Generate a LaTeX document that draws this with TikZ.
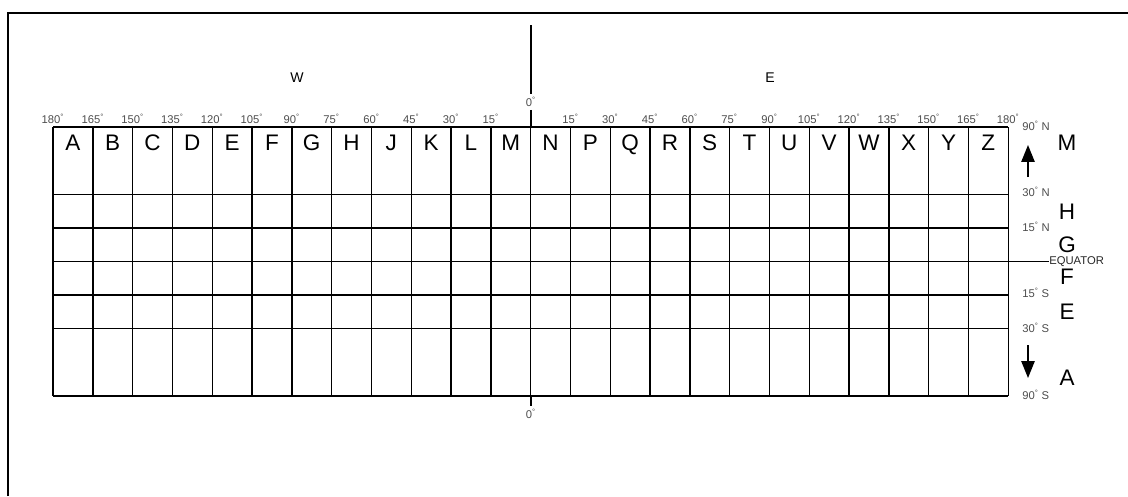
\documentclass[tikz,border=0pt]{standalone}
\usepackage{fontspec}
\setmainfont{Liberation Sans}
\usetikzlibrary{arrows.meta}
\newcommand{\dgr}{\textsuperscript{\fontsize{5.5}{5.5}\selectfont\textdegree}}

\begin{document}
\begin{tikzpicture}[x=0.025cm, y=-0.025cm,
    degree/.style={font=\fontsize{8}{8}\selectfont, text=black!70, inner sep=0pt},
    cell/.style={font=\fontsize{16}{16}\selectfont, inner sep=0pt, anchor=base},
    zone/.style={font=\fontsize{16}{16}\selectfont, inner sep=0pt},
    side/.style={font=\fontsize{10}{10}\selectfont, inner sep=0pt},
    gridline/.style={line width=1pt},
    arrow/.style={-{Triangle[length=0.42cm, width=0.33cm]}, line width=1.1pt}
]
    \useasboundingbox (0,0) rectangle (1128,496);
    \draw[line width=1.4pt] (8,496) -- (8,13) -- (1128,13);

    % grid
    \foreach \y in {127,194.2,227.8,261.4,295,328.6,395.8}
        \draw[gridline] (53,\y) -- (1008,\y);
    \foreach \i in {0,...,24}
        \draw[gridline] (53+39.8*\i,127) -- (53+39.8*\i,395.8);

    % zone letters
    \foreach \l [count=\i from 0] in {A,B,C,D,E,F,G,H,J,K,L,M,N,P,Q,R,S,T,U,V,W,X,Y,Z}
        \node[cell] (cell\l) at (72.9+39.8*\i,150) {\l};

    % longitudes
    \foreach \d [count=\i from 0] in {180,165,...,15}
        \node[degree, anchor=base] (lonW\d) at (53+39.8*\i,123) {\d\dgr};
    \foreach \d [count=\i from 13] in {15,30,...,180}
        \node[degree, anchor=base] (lonE\d) at (53+39.8*\i,123) {\d\dgr};

    \node[side] (west) at (297,78) {W};
    \node[side] (east) at (770,78) {E};

    % meridian
    \coordinate (mtop) at (531,25);
    \coordinate (gridTop) at (531,127);
    \coordinate (gridBot) at (531,395.8);
    \node[degree] (zeroTop) at (531,102) {0\dgr};
    \node[degree] (zeroBot) at (531,414) {0\dgr};
    \draw[gridline] (mtop) -- ([yshift=2pt]zeroTop.north);
    \draw[gridline] ([yshift=-2pt]zeroTop.south) -- (gridTop);
    \draw[gridline] (gridBot) -- ([yshift=2pt]zeroBot.north);

    % latitudes
    \node[degree, anchor=base west] (n90) at (1022,130) {90\dgr\ N};
    \node[degree, anchor=base west] (n30) at (1022,196) {30\dgr\ N};
    \node[degree, anchor=base west] (n15) at (1022,231) {15\dgr\ N};
    \node[degree, anchor=base west] (s15) at (1022,297) {15\dgr\ S};
    \node[degree, anchor=base west] (s30) at (1022,332) {30\dgr\ S};
    \node[degree, anchor=base west] (s90) at (1022,399) {90\dgr\ S};
    \node[degree, anchor=west, text=black!85] (equator) at (1049,261.4) {EQUATOR};
    \coordinate (eqStart) at (1008,261.4);
    \draw[gridline] (eqStart) -- (equator.west);

    \node[zone] (zM) at (1067,143) {M};
    \node[zone] (zH) at (1067,212) {H};
    \node[zone] (zG) at (1067,245) {G};
    \node[zone] (zF) at (1067,277) {F};
    \node[zone] (zE) at (1067,312) {E};
    \node[zone] (zA) at (1067,378) {A};

    \coordinate (upTail) at (1028,177);
    \coordinate (upTip) at (1028,145);
    \coordinate (downTail) at (1028,345);
    \coordinate (downTip) at (1028,378);
    \draw[arrow] (upTail) -- (upTip);
    \draw[arrow] (downTail) -- (downTip);
\end{tikzpicture}
\end{document}
